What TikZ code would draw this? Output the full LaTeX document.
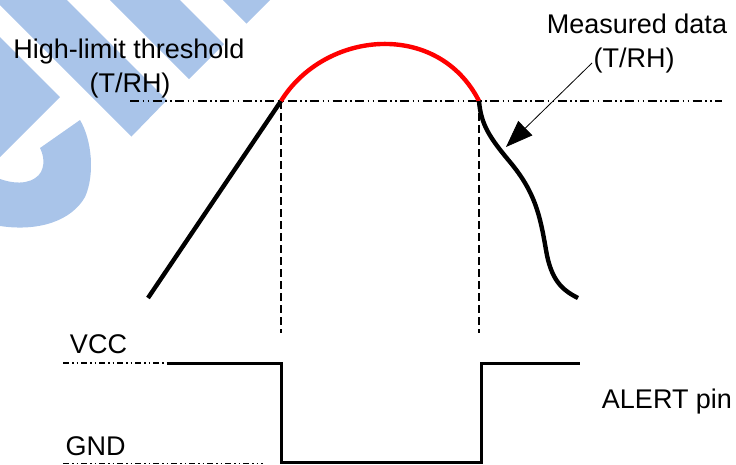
\documentclass[tikz,border=0pt]{standalone}
\usepackage{fontspec}
\setmainfont{Liberation Sans}
\usetikzlibrary{arrows.meta}
\definecolor{wmblue}{RGB}{169,196,233}
\definecolor{hotred}{RGB}{255,0,0}
\begin{document}
\begin{tikzpicture}[x=1pt,y=-1pt,
  lbl/.style={font=\fontsize{27}{34}\selectfont, inner sep=0pt, anchor=base},
  signal/.style={line width=4.4pt, line join=round},
  dashdotdot/.style={line width=1.2pt, dash pattern=on 9pt off 3.5pt on 1.5pt off 3.5pt on 1.5pt off 3.5pt},
  leveldash/.style={line width=1.2pt, dash pattern=on 6pt off 3pt on 1.5pt off 3pt on 1.5pt off 3pt},
  guide/.style={line width=1.2pt, dash pattern=on 8pt off 4pt},
  pulse/.style={line width=3pt, line join=miter},
  pointer/.style={line width=0.8pt, -{Triangle[length=27pt,width=20pt]}}]
\useasboundingbox (0,0) rectangle (736,464);
% watermark
\fill[wmblue] (0,0) -- (67,0) -- (167,100) -- (131.5,136.5) -- (0,5) -- cycle;
\fill[wmblue] (110,0) -- (180,0) -- (224,44) -- (189,79) -- cycle;
\fill[wmblue] (223,0) -- (270,0) -- (246.5,23.5) -- cycle;
\fill[wmblue] (0,37) -- (60,97) -- (0,157) -- cycle;
\fill[wmblue] (80,120) .. controls (92,140) and (95,175) .. (85,197)
  .. controls (72,220) and (40,232) .. (0,226) -- (0,179)
  .. controls (20,186) and (35,182) .. (41,172)
  .. controls (46,162) and (42,152) .. (40,148) -- cycle;
% coordinates
\coordinate (thL) at (130,101);
\coordinate (thR) at (722,101);
\coordinate (a) at (148,298);
\coordinate (b) at (281,101);
\coordinate (c) at (479,101);
\coordinate (d) at (578,298);
\coordinate (gb) at (281,333);
\coordinate (gc) at (479,333);
\coordinate (vccL) at (63,363);
\coordinate (p1) at (167,363);
\coordinate (p2) at (281,363);
\coordinate (p3) at (281,462);
\coordinate (p4) at (481,462);
\coordinate (p5) at (481,363);
\coordinate (p6) at (580,363);
\coordinate (gndL) at (63,463.5);
\coordinate (gndR) at (263,463.5);
\coordinate (arrS) at (592,63);
\coordinate (arrE) at (506,147);
% threshold
\draw[dashdotdot] (thL) -- (thR);
% guides
\draw[guide] (b) -- (gb);
\draw[guide] (c) -- (gc);
% measured data
\draw[signal] (a) -- (b);
\draw[signal, hotred] (b) .. controls (325,30) and (438,20) .. (c);
\draw[signal] (c) .. controls (481,125) and (490,138) .. (510,162)
  .. controls (535,192) and (540,215) .. (546,250)
  .. controls (551,280) and (562,290) .. (d);
% levels
\draw[leveldash] (vccL) -- (p1);
\draw[leveldash] (gndL) -- (gndR);
\draw[pulse] (p1) -- (p2) -- (p3) -- (p4) -- (p5) -- (p6);
% labels
\node[lbl] (thr1) at (129,58) {High-limit threshold};
\node[lbl] (thr2) at (130,92) {(T/RH)};
\node[lbl] (md1) at (637,33) {Measured data};
\node[lbl] (md2) at (634,67) {(T/RH)};
\node[lbl] (vcc) at (98.5,353) {VCC};
\node[lbl] (gnd) at (95.5,455) {GND};
\node[lbl] (alert) at (667,408) {ALERT pin};
% arrow
\draw[pointer] (arrS) -- (arrE);
\end{tikzpicture}
\end{document}
